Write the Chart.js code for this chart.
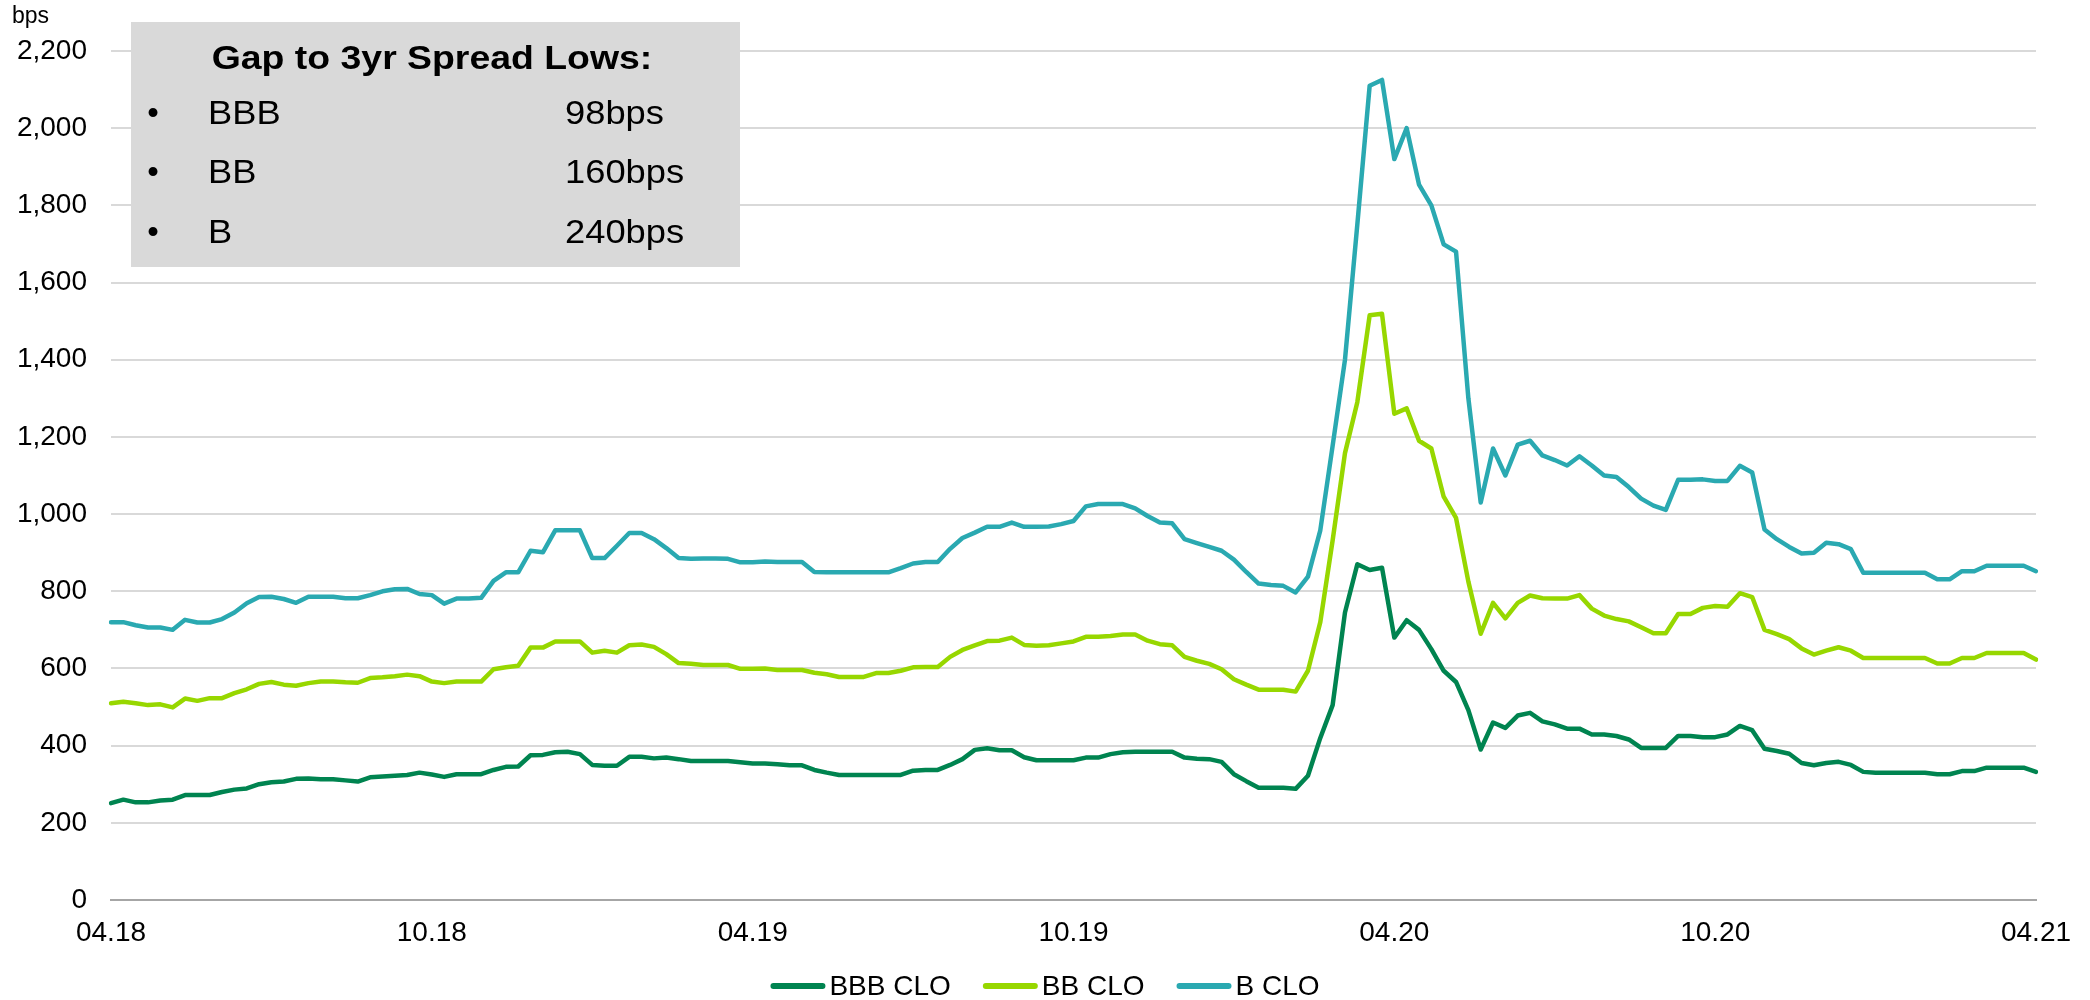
<!DOCTYPE html>
<html>
<head>
<meta charset="utf-8">
<title>CLO spreads</title>
<script src="https://cdn.jsdelivr.net/npm/chart.js@4.4.1/dist/chart.umd.min.js"></script>
<style>
  html, body { margin: 0; padding: 0; background: #fff; }
  #chart { display: block; }
</style>
</head>
<body>
<canvas id="chart" width="2090" height="1000"></canvas>
<script>
// date axis labels, one every 26 weeks
var tickLabels = ["04.18", "10.18", "04.19", "10.19", "04.20", "10.20", "04.21"];

// weekly spreads in bps, Apr 2018 - Apr 2021
var bbbClo = [
  251, 260, 253, 253, 258, 260, 272, 272, 272, 280, 286, 289, 300, 305, 307, 314, 315, 313, 313, 310,
  307, 318, 320, 322, 324, 330, 325, 319, 326, 326, 326, 337, 345, 346, 375, 376, 383, 384, 378, 350,
  348, 348, 371, 371, 367, 369, 365, 360, 360, 360, 360, 357, 354, 354, 352, 349, 349, 337, 330, 324,
  324, 324, 324, 324, 324, 335, 337, 337, 350, 365, 389, 393, 388, 388, 370, 362, 362, 362, 362, 369,
  369, 378, 383, 384, 384, 384, 384, 369, 366, 365, 358, 326, 308, 291, 291, 291, 288, 322, 420, 505,
  745, 870, 855, 861, 680, 725, 700, 650, 594, 565, 492, 390, 460, 446, 478, 485, 463, 455, 444, 444,
  429, 429, 425, 416, 394, 394, 394, 425, 425, 422, 422, 429, 451, 440, 392, 386, 379, 355, 349, 355,
  358, 350, 332, 330, 330, 330, 330, 330, 326, 326, 334, 334, 343, 343, 343, 343, 332
];
var bbClo = [
  510, 514, 510, 505, 507, 499, 522, 516, 523, 523, 536, 546, 560, 565, 558, 555, 562, 566, 566, 564,
  563, 575, 577, 580, 584, 580, 566, 562, 566, 566, 566, 598, 603, 607, 654, 654, 670, 670, 670, 641,
  646, 641, 660, 662, 656, 637, 614, 612, 609, 609, 609, 599, 599, 600, 596, 596, 596, 589, 585, 578,
  578, 578, 588, 588, 594, 603, 604, 604, 630, 648, 660, 671, 672, 680, 661, 659, 660, 665, 670, 682,
  682, 684, 688, 688, 672, 663, 660, 630, 620, 612, 598, 572, 558, 545, 545, 545, 540, 594, 720, 932,
  1158, 1290, 1515, 1519, 1260, 1274, 1190, 1170, 1045, 990, 825, 690, 770, 730, 770, 789, 782, 781, 781, 790,
  755, 737, 728, 722, 707, 691, 691, 741, 741, 757, 762, 760, 795, 785, 700, 689, 676, 652, 636, 646,
  655, 646, 627, 627, 627, 627, 627, 627, 613, 613, 627, 627, 640, 640, 640, 640, 623
];
var bClo = [
  720, 720, 712, 706, 706, 700, 726, 719, 719, 728, 745, 769, 785, 786, 780, 770, 786, 786, 786, 782,
  782, 790, 800, 805, 806, 793, 790, 768, 781, 781, 783, 827, 849, 849, 905, 901, 958, 958, 958, 886,
  886, 918, 951, 951, 935, 912, 886, 884, 885, 885, 884, 875, 875, 877, 876, 876, 876, 850, 849, 849,
  849, 849, 849, 849, 860, 872, 876, 876, 910, 938, 952, 967, 967, 978, 967, 967, 968, 974, 982, 1020,
  1026, 1026, 1026, 1015, 995, 978, 976, 935, 925, 915, 905, 882, 850, 820, 816, 814, 797, 838, 958, 1177,
  1400, 1750, 2110, 2125, 1920, 2000, 1854, 1800, 1699, 1680, 1300, 1030, 1170, 1100, 1180, 1190, 1152, 1140, 1126, 1150,
  1126, 1100, 1096, 1070, 1040, 1022, 1011, 1089, 1089, 1090, 1086, 1086, 1125, 1108, 960, 935, 915, 898, 900, 926,
  922, 909, 848, 848, 848, 848, 848, 848, 831, 831, 852, 852, 866, 866, 866, 866, 852
];

var seriesNames = ["BBB CLO", "BB CLO", "B CLO"];
var seriesColors = ["#008450", "#97d700", "#2aa9b1"];

// text panel: gap to 3yr lows
var gapTitle = "Gap to 3yr Spread Lows:";
var gapNames = ["BBB", "BB", "B"];
var gapValues = ["98bps", "160bps", "240bps"];

var FONT = "'Liberation Sans', Arial, sans-serif";

// one category per week starting 2 Apr 2018
var weeks = [];
for (var i = 0; i < bClo.length; i++) {
  var d = new Date(2018, 3, 2 + 7 * i);
  weeks.push(("0" + d.getDate()).slice(-2) + "." + ("0" + (d.getMonth() + 1)).slice(-2) + "." + String(d.getFullYear()).slice(2));
}

function wideText(ctx, text, x, y, align) {
  ctx.save();
  ctx.translate(x, y);
  ctx.scale(1.1, 1);
  ctx.textAlign = align;
  ctx.fillText(text, 0, 0);
  ctx.restore();
}

var gapPanel = {
  id: "gapPanel",
  beforeDatasetsDraw: function (chart) {
    var ctx = chart.ctx;
    ctx.save();
    ctx.fillStyle = "#d9d9d9";
    ctx.fillRect(131, 22, 609, 245);
    ctx.fillStyle = "#000";
    ctx.textBaseline = "middle";
    ctx.font = "bold 34px " + FONT;
    wideText(ctx, gapTitle, 432, 60, "center");
    ctx.font = "33px " + FONT;
    var rowsY = [115, 174, 234];
    for (var r = 0; r < gapNames.length; r++) {
      ctx.textAlign = "center";
      ctx.fillText("\u2022", 153, rowsY[r]);
      wideText(ctx, gapNames[r], 208, rowsY[r], "left");
      wideText(ctx, gapValues[r], 565, rowsY[r], "left");
    }
    ctx.restore();
  },
  afterDraw: function (chart) {
    var ctx = chart.ctx;
    ctx.save();
    ctx.fillStyle = "#000";
    ctx.textBaseline = "middle";
    ctx.textAlign = "left";
    ctx.font = "23px " + FONT;
    ctx.fillText("bps", 12, 17);

    // legend under the axis
    ctx.font = "28px " + FONT;
    var lineLen = 55, gap = 4, spacing = 32;
    var widths = chart.data.datasets.map(function (ds) {
      return lineLen + gap + ctx.measureText(ds.label).width;
    });
    var total = widths.reduce(function (a, b) { return a + b; }, 0) + spacing * (widths.length - 1);
    var x = chart.width / 2 - total / 2;
    var y = 986;
    chart.data.datasets.forEach(function (ds, k) {
      ctx.strokeStyle = ds.borderColor;
      ctx.lineWidth = 6;
      ctx.lineCap = "round";
      ctx.beginPath();
      ctx.moveTo(x + 3, y);
      ctx.lineTo(x + lineLen - 3, y);
      ctx.stroke();
      ctx.fillText(ds.label, x + lineLen + gap, y + 1);
      x += widths[k] + spacing;
    });
    ctx.restore();
  }
};

var datasets = [bbbClo, bbClo, bClo].map(function (vals, k) {
  return {
    label: seriesNames[k],
    data: vals,
    borderColor: seriesColors[k],
    backgroundColor: seriesColors[k],
    borderWidth: 4.5,
    pointRadius: 0,
    tension: 0,
    borderJoinStyle: "round",
    borderCapStyle: "round",
    fill: false
  };
});

var chart = new Chart(document.getElementById("chart"), {
  type: "line",
  data: { labels: weeks, datasets: datasets },
  options: {
    responsive: false,
    animation: false,
    devicePixelRatio: 1,
    events: [],
    layout: { padding: { top: 51, right: 54, bottom: 0, left: 0 } },
    plugins: {
      legend: { display: false },
      tooltip: { enabled: false }
    },
    scales: {
      x: {
        grid: { display: false },
        border: { display: true, color: "#a6a6a6", width: 2 },
        ticks: {
          autoSkip: false,
          maxRotation: 0,
          minRotation: 0,
          padding: 8,
          color: "#000",
          font: { family: FONT, size: 28 },
          callback: function (value, index) {
            return index % 26 === 0 ? tickLabels[index / 26] : null;
          }
        },
        afterFit: function (scale) { scale.height = 100; }
      },
      y: {
        min: 0,
        max: 2200,
        grid: { color: "#d9d9d9", lineWidth: 2, drawTicks: false },
        border: { display: false },
        ticks: {
          stepSize: 200,
          padding: 24,
          color: "#000",
          font: { family: FONT, size: 28 },
          callback: function (value) { return value.toLocaleString("en-US"); }
        },
        afterFit: function (scale) { scale.width = 111; }
      }
    }
  },
  plugins: [gapPanel]
});
</script>
</body>
</html>
